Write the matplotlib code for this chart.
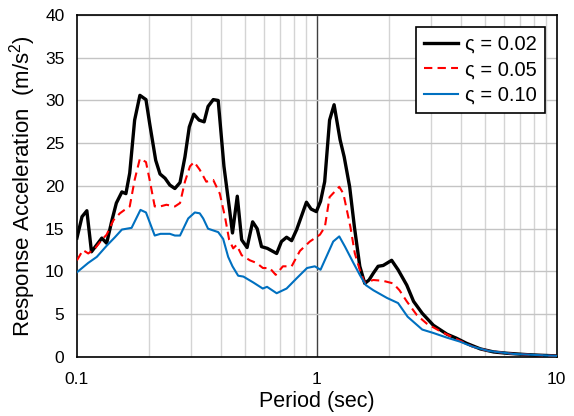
import numpy as np
import matplotlib
matplotlib.use("Agg")
import matplotlib.pyplot as plt
from matplotlib.ticker import FixedLocator, NullFormatter

plt.rcParams['font.family'] = ['Liberation Sans', 'DejaVu Sans']
plt.rcParams['mathtext.default'] = 'regular'

# damping 0.02
t_02 = [0.100, 0.105, 0.110, 0.115, 0.127, 0.133, 0.140, 0.146, 0.154, 0.160,
        0.166, 0.174, 0.183, 0.194, 0.201, 0.213, 0.222, 0.233, 0.244, 0.256,
        0.269, 0.282, 0.294, 0.307, 0.323, 0.339, 0.352, 0.370, 0.388, 0.410,
        0.431, 0.445, 0.466, 0.486, 0.512, 0.540, 0.564, 0.588, 0.622, 0.680,
        0.712, 0.748, 0.785, 0.824, 0.905, 0.946, 0.995, 1.036, 1.078, 1.13,
        1.18, 1.25, 1.30, 1.37, 1.434, 1.51, 1.584, 1.65, 1.72, 1.80,
        1.89, 2.05, 2.18, 2.37, 2.53, 2.75, 3.06, 3.49, 3.81, 4.20,
        4.80, 5.46, 6.2, 7.5, 8.5, 10.0]
sa_02 = [13.9, 16.4, 17.1, 12.3, 13.9, 13.3, 16.0, 18.0, 19.3, 19.1,
         21.5, 27.7, 30.6, 30.1, 27.3, 23.0, 21.4, 20.9, 20.1, 19.7,
         20.4, 23.4, 26.9, 28.4, 27.7, 27.5, 29.3, 30.1, 30.0, 22.3,
         17.6, 14.5, 18.8, 13.7, 12.8, 15.8, 15.0, 12.9, 12.7, 12.1,
         13.5, 14.0, 13.6, 14.9, 18.1, 17.3, 17.0, 18.2, 20.5, 27.7,
         29.5, 25.4, 23.4, 19.9, 15.2, 10.6, 8.6, 9.0, 9.8, 10.6,
         10.7, 11.3, 10.2, 8.4, 6.5, 5.1, 3.7, 2.65, 2.2, 1.6,
         0.94, 0.58, 0.43, 0.27, 0.2, 0.12]

# damping 0.05
t_05 = [0.100, 0.106, 0.1115, 0.119, 0.127, 0.133, 0.142, 0.151, 0.158, 0.166,
        0.174, 0.183, 0.194, 0.201, 0.211, 0.222, 0.236, 0.256, 0.269, 0.282,
        0.296, 0.308, 0.325, 0.346, 0.370, 0.394, 0.414, 0.431, 0.448, 0.463,
        0.486, 0.526, 0.560, 0.596, 0.636, 0.674, 0.722, 0.785, 0.85, 0.935,
        1.03, 1.08, 1.13, 1.24, 1.29, 1.38, 1.44, 1.51, 1.58, 1.72,
        1.89, 2.08, 2.21, 2.37, 2.61, 2.87, 3.27, 3.81, 4.46, 5.2,
        6.6, 8.5, 10.0]
sa_05 = [11.3, 12.5, 12.1, 12.7, 13.7, 14.3, 16.0, 16.8, 17.2, 17.6,
         20.7, 23.2, 22.8, 20.7, 17.6, 17.6, 17.8, 17.6, 18.0, 20.5,
         22.3, 22.8, 21.9, 20.5, 20.7, 19.1, 16.4, 13.7, 12.7, 13.1,
         11.9, 11.3, 11.0, 10.4, 10.4, 9.6, 10.6, 10.6, 12.4, 13.5,
         14.3, 15.2, 18.7, 19.9, 19.1, 15.2, 12.1, 10.2, 8.7, 9.0,
         8.9, 8.6, 7.8, 6.5, 4.9, 3.9, 3.0, 2.1, 1.2, 0.7,
         0.35, 0.2, 0.12]

# damping 0.10
t_10 = [0.100, 0.1115, 0.121, 0.133, 0.144, 0.154, 0.169, 0.184, 0.194, 0.211,
        0.223, 0.244, 0.256, 0.269, 0.291, 0.310, 0.325, 0.336, 0.352, 0.388,
        0.407, 0.427, 0.445, 0.470, 0.494, 0.544, 0.595, 0.620, 0.680, 0.748,
        0.824, 0.91, 0.98, 1.036, 1.095, 1.17, 1.24, 1.31, 1.42, 1.51,
        1.60, 1.72, 1.96, 2.18, 2.39, 2.75, 3.06, 3.49, 3.94, 4.46,
        5.2, 6.6, 10.0]
sa_10 = [9.9, 11.0, 11.7, 13.0, 14.0, 14.9, 15.1, 17.2, 16.9, 14.2,
         14.4, 14.4, 14.2, 14.2, 16.2, 16.9, 16.8, 16.2, 15.0, 14.6,
         13.8, 11.7, 10.6, 9.5, 9.4, 8.7, 8.0, 8.2, 7.45, 8.0,
         9.2, 10.4, 10.6, 10.2, 11.7, 13.5, 14.1, 12.9, 11.0, 9.6,
         8.4, 7.8, 6.9, 6.3, 4.7, 3.2, 2.8, 2.25, 1.8, 1.2,
         0.7, 0.35, 0.12]

series = [
    (t_02, sa_02, "ς = 0.02", dict(color="black", lw=2.4, ls="-")),
    (t_05, sa_05, "ς = 0.05", dict(color="#ff0000", lw=1.5, ls=(0, (4, 2.5)))),
    (t_10, sa_10, "ς = 0.10", dict(color="#0070c0", lw=1.5, ls="-")),
]

fig = plt.figure(figsize=(5.74, 4.16), dpi=100)
ax = fig.add_axes([0.134, 0.142, 0.836, 0.822])

for t, sa, lab, st in series:
    ax.plot(t, sa, label=lab, **st, zorder=3)

ax.set_xscale("log")
ax.set_xlim(0.1, 10)
ax.set_ylim(0, 40)
ax.set_yticks(np.arange(0, 41, 5))
ax.xaxis.set_major_locator(FixedLocator([0.1, 1, 10]))
ax.set_xticklabels(["0.1", "1", "10"])
minor = [m * d for d in (0.1, 1) for m in range(2, 10)]
ax.xaxis.set_minor_locator(FixedLocator(minor))
ax.xaxis.set_minor_formatter(NullFormatter())

ax.grid(True, which="minor", axis="x", color="#d4d4d4", lw=1.0, zorder=0)
ax.grid(True, which="major", axis="y", color="#c4c4c4", lw=1.0, zorder=0)
ax.axvline(1, color="#404040", lw=1.0, zorder=1)

ax.tick_params(axis="both", which="both", length=0, labelsize=12.5, pad=9, colors="black")
ax.tick_params(axis="x", pad=11)
for s in ax.spines.values():
    s.set_color("black")
    s.set_linewidth(1.2)

ax.set_xlabel("Period (sec)", fontsize=15.5, labelpad=3)
ax.set_ylabel("Response Acceleration  (m/s$^2$)", fontsize=16, labelpad=5)

leg = ax.legend(loc="upper right", fontsize=14.5, fancybox=False, framealpha=1,
                edgecolor="black", borderpad=0.4, handlelength=1.7,
                handletextpad=0.35, labelspacing=0.32, borderaxespad=0,
                bbox_to_anchor=(0.975, 0.965))
leg.get_frame().set_linewidth(1.2)

fig.savefig("out.png", dpi=100)
